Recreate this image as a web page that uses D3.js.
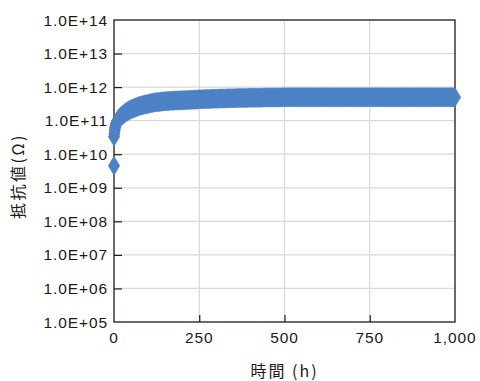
<!DOCTYPE html>
<html>
<head>
<meta charset="utf-8">
<script src="https://cdn.jsdelivr.net/npm/d3@7"></script>
<style>
  html, body { margin: 0; padding: 0; background: #fff; }
  svg { display: block; }
</style>
</head>
<body>
<svg id="chart" width="480" height="381"></svg>
<script>
// Elapsed time of each measurement (h)
const hours = [
  0, 0, 1, 2, 3, 4, 5, 6, 7, 8, 9,
  10, 12, 14, 16, 18, 20, 22, 24, 26, 28, 30, 32, 34, 36, 38, 40, 42, 44, 46, 48, 50, 52, 54, 56, 58,
  60, 62, 64, 66, 68, 70, 72, 74, 76, 78, 80, 82, 84, 86, 88, 90, 92, 94, 96, 98, 100, 102, 104, 106, 108,
  110, 112, 114, 116, 118, 120, 122, 124, 126, 128, 130, 132, 134, 136, 138, 140, 142, 144, 146, 148, 150, 152, 154, 156, 158,
  160, 162, 164, 166, 168, 170, 172, 174, 176, 178, 180, 182, 184, 186, 188, 190, 192, 194, 196, 198, 200,
  202, 204, 206, 208, 210, 212, 214, 216, 218, 220, 222, 224, 226, 228, 230, 232, 234, 236, 238, 240, 242, 244, 246, 248, 250,
  252, 254, 256, 258, 260, 262, 264, 266, 268, 270, 272, 274, 276, 278, 280, 282, 284, 286, 288, 290, 292, 294, 296, 298, 300,
  302, 304, 306, 308, 310, 312, 314, 316, 318, 320, 322, 324, 326, 328, 330, 332, 334, 336, 338, 340, 342, 344, 346, 348, 350,
  352, 354, 356, 358, 360, 362, 364, 366, 368, 370, 372, 374, 376, 378, 380, 382, 384, 386, 388, 390, 392, 394, 396, 398, 400,
  402, 404, 406, 408, 410, 412, 414, 416, 418, 420, 422, 424, 426, 428, 430, 432, 434, 436, 438, 440, 442, 444, 446, 448, 450,
  452, 454, 456, 458, 460, 462, 464, 466, 468, 470, 472, 474, 476, 478, 480, 482, 484, 486, 488, 490, 492, 494, 496, 498, 500,
  502, 504, 506, 508, 510, 512, 514, 516, 518, 520, 522, 524, 526, 528, 530, 532, 534, 536, 538, 540, 542, 544, 546, 548, 550,
  552, 554, 556, 558, 560, 562, 564, 566, 568, 570, 572, 574, 576, 578, 580, 582, 584, 586, 588, 590, 592, 594, 596, 598, 600,
  602, 604, 606, 608, 610, 612, 614, 616, 618, 620, 622, 624, 626, 628, 630, 632, 634, 636, 638, 640, 642, 644, 646, 648, 650,
  652, 654, 656, 658, 660, 662, 664, 666, 668, 670, 672, 674, 676, 678, 680, 682, 684, 686, 688, 690, 692, 694, 696, 698, 700,
  702, 704, 706, 708, 710, 712, 714, 716, 718, 720, 722, 724, 726, 728, 730, 732, 734, 736, 738, 740, 742, 744, 746, 748, 750,
  752, 754, 756, 758, 760, 762, 764, 766, 768, 770, 772, 774, 776, 778, 780, 782, 784, 786, 788, 790, 792, 794, 796, 798, 800,
  802, 804, 806, 808, 810, 812, 814, 816, 818, 820, 822, 824, 826, 828, 830, 832, 834, 836, 838, 840, 842, 844, 846, 848, 850,
  852, 854, 856, 858, 860, 862, 864, 866, 868, 870, 872, 874, 876, 878, 880, 882, 884, 886, 888, 890, 892, 894, 896, 898, 900,
  902, 904, 906, 908, 910, 912, 914, 916, 918, 920, 922, 924, 926, 928, 930, 932, 934, 936, 938, 940, 942, 944, 946, 948, 950,
  952, 954, 956, 958, 960, 962, 964, 966, 968, 970, 972, 974, 976, 978, 980, 982, 984, 986, 988, 990, 992, 994, 996, 998, 1000
];

// Measured resistance at each time, in units of 10^11 Ω
const resistanceE11 = [
  0.045, 0.33, 0.40, 0.50, 0.59, 0.66, 0.72, 0.79, 0.85, 0.91, 0.95,
  1.00, 1.07, 1.14, 1.20, 1.26, 1.32, 1.38, 1.45, 1.51, 1.56, 1.62, 1.68, 1.75, 1.81, 1.86, 1.91, 1.96, 2.01, 2.07, 2.13, 2.19, 2.23, 2.27, 2.31, 2.36,
  2.40, 2.44, 2.49, 2.53, 2.58, 2.63, 2.68, 2.73, 2.76, 2.79, 2.82, 2.86, 2.90, 2.94, 2.98, 3.02, 3.05, 3.08, 3.10, 3.13, 3.16, 3.20, 3.25, 3.29, 3.32,
  3.35, 3.38, 3.41, 3.45, 3.48, 3.51, 3.53, 3.54, 3.56, 3.57, 3.59, 3.61, 3.62, 3.65, 3.68, 3.72, 3.74, 3.75, 3.77, 3.78, 3.80, 3.81, 3.82, 3.83, 3.84,
  3.85, 3.86, 3.88, 3.89, 3.91, 3.92, 3.93, 3.94, 3.95, 3.96, 3.97, 3.98, 3.99, 3.99, 4.00, 4.01, 4.02, 4.03, 4.03, 4.04, 4.05,
  4.06, 4.07, 4.08, 4.09, 4.10, 4.11, 4.12, 4.13, 4.14, 4.15, 4.16, 4.17, 4.18, 4.19, 4.20, 4.21, 4.22, 4.23, 4.24, 4.26, 4.27, 4.28, 4.29, 4.31, 4.32,
  4.33, 4.34, 4.35, 4.35, 4.36, 4.37, 4.38, 4.39, 4.39, 4.40, 4.41, 4.42, 4.43, 4.43, 4.44, 4.45, 4.46, 4.47, 4.47, 4.48, 4.49, 4.50, 4.51, 4.51, 4.52,
  4.53, 4.53, 4.54, 4.55, 4.55, 4.56, 4.56, 4.57, 4.57, 4.58, 4.59, 4.59, 4.60, 4.60, 4.61, 4.62, 4.62, 4.63, 4.63, 4.64, 4.65, 4.65, 4.66, 4.67, 4.67,
  4.68, 4.68, 4.69, 4.69, 4.70, 4.70, 4.71, 4.71, 4.72, 4.72, 4.73, 4.73, 4.74, 4.74, 4.74, 4.75, 4.75, 4.76, 4.76, 4.77, 4.77, 4.78, 4.78, 4.79, 4.79,
  4.80, 4.80, 4.80, 4.81, 4.81, 4.82, 4.82, 4.83, 4.83, 4.83, 4.84, 4.84, 4.85, 4.85, 4.85, 4.86, 4.86, 4.87, 4.87, 4.87, 4.88, 4.88, 4.89, 4.89, 4.89,
  4.90, 4.90, 4.90, 4.91, 4.91, 4.91, 4.91, 4.92, 4.92, 4.92, 4.92, 4.93, 4.93, 4.93, 4.93, 4.94, 4.94, 4.94, 4.94, 4.94, 4.95, 4.95, 4.95, 4.95, 4.95,
  4.95, 4.96, 4.96, 4.96, 4.96, 4.96, 4.97, 4.96, 4.97, 4.97, 4.97, 4.97, 4.97, 4.98, 4.97, 4.98, 4.98, 4.98, 4.97, 4.98, 4.98, 4.98, 4.98, 4.99, 4.98,
  4.98, 4.99, 4.99, 4.98, 4.99, 4.99, 4.99, 4.99, 4.99, 5.00, 4.99, 4.99, 5.00, 4.99, 5.00, 5.00, 5.00, 4.99, 5.00, 5.00, 5.00, 5.00, 5.00, 5.01, 5.00,
  5.00, 5.00, 5.01, 5.00, 5.01, 5.00, 5.01, 5.01, 5.00, 5.01, 5.01, 5.01, 5.00, 5.01, 5.01, 5.01, 5.01, 5.01, 5.00, 5.01, 5.01, 5.01, 5.01, 5.01, 5.01,
  5.01, 5.01, 5.00, 5.01, 5.01, 5.01, 5.02, 5.01, 5.01, 5.01, 5.01, 5.02, 5.01, 5.01, 5.01, 5.02, 5.01, 5.01, 5.02, 5.01, 5.01, 5.01, 5.02, 5.01, 5.01,
  5.02, 5.01, 5.01, 5.02, 5.01, 5.02, 5.01, 5.01, 5.02, 5.01, 5.02, 5.02, 5.01, 5.02, 5.01, 5.01, 5.02, 5.01, 5.02, 5.01, 5.01, 5.02, 5.01, 5.01, 5.02,
  5.01, 5.02, 5.01, 5.01, 5.02, 5.01, 5.01, 5.01, 5.02, 5.01, 5.01, 5.01, 5.01, 5.02, 5.01, 5.01, 5.01, 5.00, 5.01, 5.01, 5.01, 5.01, 5.00, 5.01, 5.01,
  5.00, 5.01, 5.01, 5.00, 5.01, 5.00, 5.00, 5.01, 5.00, 5.00, 5.00, 5.00, 4.99, 5.00, 5.00, 5.00, 4.99, 5.00, 4.99, 5.00, 4.99, 4.99, 5.00, 4.99, 4.99,
  4.99, 4.99, 4.99, 4.98, 4.99, 4.99, 4.98, 4.99, 4.98, 4.98, 4.99, 4.98, 4.98, 4.98, 4.98, 4.97, 4.98, 4.98, 4.98, 4.97, 4.98, 4.97, 4.98, 4.97, 4.97,
  4.97, 4.98, 4.97, 4.97, 4.97, 4.97, 4.97, 4.96, 4.97, 4.97, 4.97, 4.96, 4.97, 4.97, 4.96, 4.97, 4.96, 4.97, 4.96, 4.96, 4.97, 4.96, 4.96, 4.97, 4.96,
  4.96, 4.96, 4.97, 4.96, 4.96, 4.96, 4.97, 4.96, 4.96, 4.96, 4.97, 4.96, 4.97, 4.96, 4.96, 4.97, 4.96, 4.97, 4.96, 4.97, 4.97, 4.96, 4.97, 4.97, 4.97
];

// Axis ticks
const xTicks = [0, 250, 500, 750, 1000];
const yTicks = [1e5, 1e6, 1e7, 1e8, 1e9, 1e10, 1e11, 1e12, 1e13, 1e14];

const xTitle = "時間 (h)";
const yTitle = "抵抗値(Ω)";

const svg = d3.select("#chart");
const plot = { left: 114, right: 455, top: 20, bottom: 322 };

const x = d3.scaleLinear().domain([0, 1000]).range([plot.left, plot.right]);
const y = d3.scaleLog().domain([1e5, 1e14]).range([plot.bottom, plot.top]);

const ink = "#231815";
const grid = "#d9d9d9";
const blue = "#4e82c6";
const numFont = "'Liberation Sans', Arial, Helvetica, sans-serif";
const cjkFont = "'Noto Sans CJK JP', 'Noto Sans CJK SC', sans-serif";

// Gridlines
svg.append("g")
  .selectAll("line")
  .data(yTicks.slice(1, -1))
  .join("line")
  .attr("x1", plot.left).attr("x2", plot.right)
  .attr("y1", d => y(d)).attr("y2", d => y(d))
  .attr("stroke", grid).attr("stroke-width", 1.2);

svg.append("g")
  .selectAll("line")
  .data(xTicks.slice(1, -1))
  .join("line")
  .attr("x1", d => x(d)).attr("x2", d => x(d))
  .attr("y1", plot.top).attr("y2", plot.bottom)
  .attr("stroke", grid).attr("stroke-width", 1.2);

// Axes with inward ticks
svg.append("g")
  .attr("transform", `translate(${plot.left},0)`)
  .call(d3.axisRight(y).tickValues(yTicks.slice(1, -1)).tickSize(8).tickFormat(""))
  .call(g => g.select(".domain").remove())
  .call(g => g.selectAll("line").attr("stroke", ink).attr("stroke-width", 1.2));

svg.append("g")
  .attr("transform", `translate(0,${plot.bottom})`)
  .call(d3.axisTop(x).tickValues(xTicks.slice(1, -1)).tickSize(7).tickFormat(""))
  .call(g => g.select(".domain").remove())
  .call(g => g.selectAll("line").attr("stroke", ink).attr("stroke-width", 1.2));

// Plot frame
svg.append("rect")
  .attr("x", plot.left).attr("y", plot.top)
  .attr("width", plot.right - plot.left)
  .attr("height", plot.bottom - plot.top)
  .attr("fill", "none")
  .attr("stroke", ink)
  .attr("stroke-width", 1.3);

// Tick labels
const expFmt = d => "1.0E+" + String(Math.round(Math.log10(d))).padStart(2, "0");
svg.append("g")
  .selectAll("text")
  .data(yTicks)
  .join("text")
  .attr("x", 108)
  .attr("y", d => y(d) + 5.5)
  .attr("text-anchor", "end")
  .attr("font-family", numFont)
  .attr("font-size", 15.5)
  .attr("letter-spacing", 0.9)
  .attr("fill", ink)
  .text(expFmt);

const commaFmt = d3.format(",");
svg.append("g")
  .selectAll("text")
  .data(xTicks)
  .join("text")
  .attr("x", d => x(d))
  .attr("y", 343)
  .attr("text-anchor", "middle")
  .attr("font-family", numFont)
  .attr("font-size", 15.5)
  .attr("letter-spacing", 0.9)
  .attr("fill", ink)
  .text(commaFmt);

// Axis titles
svg.append("text")
  .attr("x", (plot.left + plot.right) / 2)
  .attr("y", 377)
  .attr("text-anchor", "middle")
  .attr("font-family", cjkFont)
  .attr("font-size", 16)
  .attr("letter-spacing", 2)
  .attr("fill", ink)
  .text(xTitle);

svg.append("text")
  .attr("transform", "translate(24,176) rotate(-90)")
  .attr("text-anchor", "middle")
  .attr("font-family", cjkFont)
  .attr("font-size", 16)
  .attr("letter-spacing", 2.5)
  .attr("fill", ink)
  .text(yTitle);

// Diamond markers
const diamond = "M0,-10L6,0L0,10L-6,0Z";
const points = hours.map((h, i) => ({ h, r: resistanceE11[i] * 1e11 }));
svg.append("g")
  .selectAll("path")
  .data(points)
  .join("path")
  .attr("d", diamond)
  .attr("transform", d => `translate(${x(d.h)},${y(d.r)})`)
  .attr("fill", blue);
</script>
</body>
</html>
